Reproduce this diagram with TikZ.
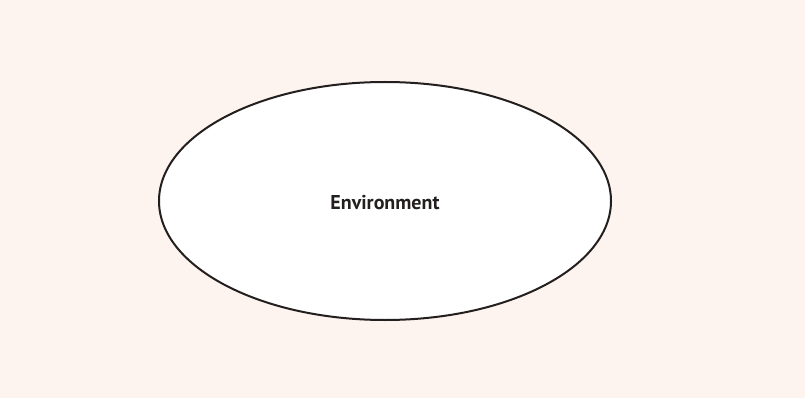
\documentclass[tikz,border=0pt]{standalone}
\usepackage{fontspec}
\setmainfont{PT Sans}
\usetikzlibrary{shapes.geometric}
\definecolor{bgcol}{HTML}{FDF4F0}
\definecolor{inkcol}{HTML}{231F1E}
\begin{document}
\begin{tikzpicture}[x=1pt,y=-1pt,
  envshape/.style={ellipse, draw=inkcol, line width=2pt, fill=white,
    minimum width=452pt, minimum height=238pt, inner sep=0pt,
    font=\fontsize{20}{24}\selectfont\bfseries, text=inkcol}]
  \fill[bgcol] (0,0) rectangle (805,398);
  \useasboundingbox (0,0) rectangle (805,398);
  % label baseline sits a little below the ellipse centre
  \node[envshape] (env) at (385,201) {\raisebox{-8pt}[0pt][0pt]{Environment}};
\end{tikzpicture}
\end{document}
